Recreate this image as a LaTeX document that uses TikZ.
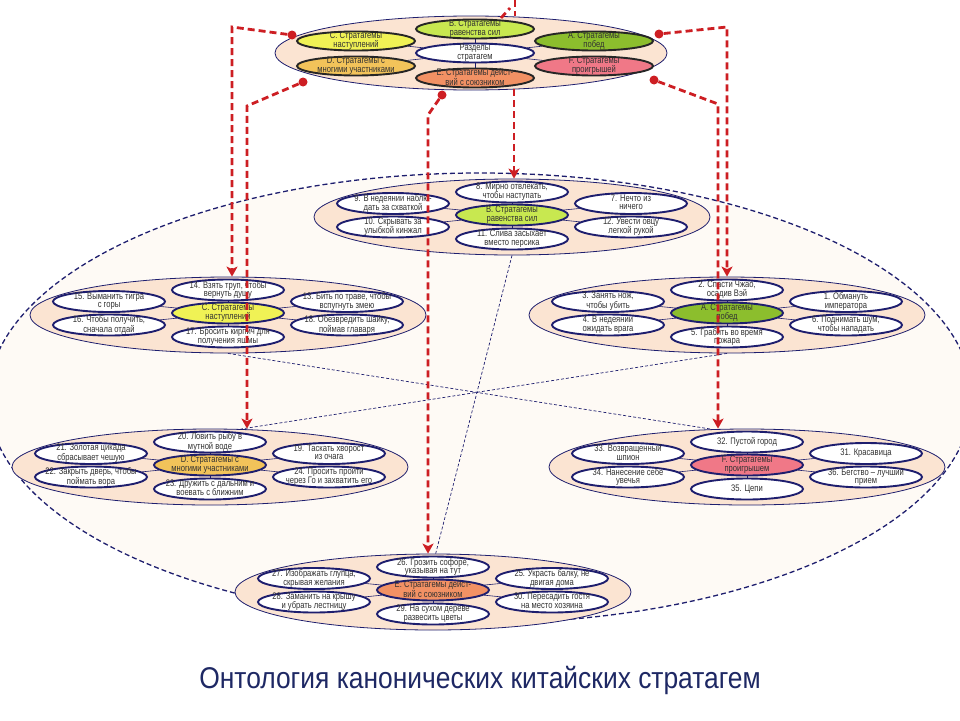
\documentclass[tikz,border=0pt]{standalone}
\usepackage{fontspec}
\newfontfamily\nf[FakeStretch=0.8]{Liberation Sans}
\newfontfamily\tf[FakeStretch=0.88]{Liberation Sans}
\usetikzlibrary{shapes.geometric,arrows.meta,calc}
\pgfdeclarelayer{back}\pgfdeclarelayer{mid}
\pgfsetlayers{back,mid,main}
\definecolor{navy}{RGB}{30,30,110}
\definecolor{peach}{RGB}{251,228,210}
\definecolor{cream}{RGB}{254,250,245}
\definecolor{redd}{RGB}{205,30,35}
\definecolor{cyel}{RGB}{240,242,85}
\definecolor{cgrl}{RGB}{200,232,80}
\definecolor{cgrn}{RGB}{140,190,45}
\definecolor{cora}{RGB}{242,195,90}
\definecolor{cpnk}{RGB}{240,120,135}
\definecolor{csal}{RGB}{242,145,100}
\definecolor{ttlc}{RGB}{30,40,100}
\definecolor{txtc}{RGB}{50,50,50}
\newcommand\tl[1]{\makebox[0pt]{\smash{\raisebox{-2.4pt}{\begin{tabular}[c]{@{}c@{}}#1\end{tabular}}}}}
\tikzset{
  bigell/.style={ellipse, draw=navy, line width=1.3pt, dash pattern=on 5pt off 3pt, fill=cream, minimum width=984pt, minimum height=450pt, inner sep=0pt},
  clbig/.style={ellipse, draw=navy, line width=0.8pt, fill=peach, minimum width=396pt, minimum height=76pt, inner sep=0pt},
  satn/.style={ellipse, draw=navy, line width=1.9pt, fill=white, minimum width=112pt, minimum height=21pt, inner sep=0pt, font=\nf\fontsize{9.5}{8.6}\selectfont, text=txtc},
  ctr/.style={satn},
  topn/.style={satn, draw=black!85, minimum width=118pt, minimum height=19pt},
  spoke/.style={draw=navy, line width=0.6pt},
  thinl/.style={draw=navy, line width=0.7pt, dash pattern=on 3pt off 2pt},
  redl/.style={draw=redd, line width=2.8pt, dash pattern=on 7pt off 4pt},
  redarr/.style={redl, -{Stealth[length=10pt,width=11pt,inset=2.5pt]}},
  dotn/.style={circle, fill=redd, minimum size=9pt, inner sep=0pt},
  ttl/.style={font=\tf\fontsize{30}{34}\selectfont, text=ttlc}
}
\newcommand\clu[5]{%
  \begin{pgfonlayer}{mid}\node[clbig] (cl#1) at (#2,#3+2) {};\end{pgfonlayer}
  \node[ctr,fill=#4] (c#1) at (#2,#3) {\tl{#5}};
}
\newcommand\sat[5]{%
  \node[satn] (#1) at ($(#2)+(#3,#4)$) {\tl{#5}};
  \begin{pgfonlayer}{mid}\draw[spoke] (#2) -- (#1);\end{pgfonlayer}
}
\begin{document}
\begin{tikzpicture}[x=1pt,y=-1pt]
\useasboundingbox (0,0) rectangle (960,720);
\begin{pgfonlayer}{back}\node[bigell] (big) at (480,398) {};\end{pgfonlayer}

% top cluster
\begin{pgfonlayer}{mid}\node[clbig, minimum width=392pt, minimum height=74pt] (clT) at (471,53) {};\end{pgfonlayer}
\node[topn, draw=navy, fill=white] (cT) at (475,53) {\tl{Разделы\\стратагем}};
\node[topn, fill=cgrl] (tB) at (475,29) {\tl{B. Стратагемы\\равенства сил}};
\node[topn, fill=cyel] (tC) at (356,41) {\tl{C. Стратагемы\\наступлений}};
\node[topn, fill=cgrn] (tA) at (594,41) {\tl{A. Стратагемы\\побед}};
\node[topn, fill=cora] (tD) at (356,66) {\tl{D. Стратагемы с\\многими участниками}};
\node[topn, fill=cpnk] (tF) at (594,66) {\tl{F. Стратагемы\\проигрышей}};
\node[topn, fill=csal] (tE) at (475,78) {\tl{E. Стратагемы дейст-\\вий с союзником}};
\begin{pgfonlayer}{mid}
\foreach \n in {tB,tC,tA,tD,tF,tE} \draw[spoke] (cT) -- (\n);
\end{pgfonlayer}

% cluster B
\clu{B}{512}{215}{cgrl}{B. Стратагемы\\равенства сил}
\sat{n8}{cB}{0}{-23}{8. Мирно отвлекать,\\чтобы наступать}
\sat{n9}{cB}{-119}{-11.5}{9. В недеянии наблю-\\дать за схваткой}
\sat{n7}{cB}{119}{-11.5}{7. Нечто из\\ничего}
\sat{n10}{cB}{-119}{12}{10. Скрывать за\\улыбкой кинжал}
\sat{n12}{cB}{119}{12}{12. Увести овцу\\легкой рукой}
\sat{n11}{cB}{0}{24}{11. Слива засыхает\\вместо персика}

% cluster C
\clu{C}{228}{313}{cyel}{C. Стратагемы\\наступлений}
\sat{n14}{cC}{0}{-23}{14. Взять труп, чтобы\\вернуть душу}
\sat{n15}{cC}{-119}{-11.5}{15. Выманить тигра\\с горы}
\sat{n13}{cC}{119}{-11.5}{13. Бить по траве, чтобы\\вспугнуть змею}
\sat{n16}{cC}{-119}{12}{16. Чтобы получить,\\сначала отдай}
\sat{n18}{cC}{119}{12}{18. Обезвредить шайку,\\поймав главаря}
\sat{n17}{cC}{0}{24}{17. Бросить кирпич для\\получения яшмы}

% cluster A
\clu{A}{727}{313}{cgrn}{A. Стратагемы\\побед}
\sat{n2}{cA}{0}{-23}{2. Спасти Чжао,\\осадив Вэй}
\sat{n3}{cA}{-119}{-11.5}{3. Занять нож,\\чтобы убить}
\sat{n1}{cA}{119}{-11.5}{1. Обмануть\\императора}
\sat{n4}{cA}{-119}{12}{4. В недеянии\\ожидать врага}
\sat{n6}{cA}{119}{12}{6. Поднимать шум,\\чтобы нападать}
\sat{n5}{cA}{0}{24}{5. Грабить во время\\пожара}

% cluster D
\clu{D}{210}{465}{cora}{D. Стратагемы с\\многими участниками}
\sat{n20}{cD}{0}{-23}{20. Ловить рыбу в\\мутной воде}
\sat{n21}{cD}{-119}{-11.5}{21. Золотая цикада\\сбрасывает чешую}
\sat{n19}{cD}{119}{-11.5}{19. Таскать хворост\\из очага}
\sat{n22}{cD}{-119}{12}{22. Закрыть дверь, чтобы\\поймать вора}
\sat{n24}{cD}{119}{12}{24. Просить пройти\\через Го и захватить его}
\sat{n23}{cD}{0}{24}{23. Дружить с дальним и\\воевать с ближним}

% cluster F
\clu{F}{747}{465}{cpnk}{F. Стратагемы\\проигрышем}
\sat{n32}{cF}{0}{-23}{32. Пустой город}
\sat{n33}{cF}{-119}{-11.5}{33. Возвращенный\\шпион}
\sat{n31}{cF}{119}{-11.5}{31. Красавица}
\sat{n34}{cF}{-119}{12}{34. Нанесение себе\\увечья}
\sat{n36}{cF}{119}{12}{36. Бегство – лучший\\прием}
\sat{n35}{cF}{0}{24}{35. Цепи}

% cluster E
\clu{E}{433}{590}{csal}{E. Стратагемы дейст-\\вий с союзником}
\sat{n26}{cE}{0}{-23}{26. Грозить софоре,\\указывая на тут}
\sat{n27}{cE}{-119}{-11.5}{27. Изображать глупца,\\скрывая желания}
\sat{n25}{cE}{119}{-11.5}{25. Украсть балку, не\\двигая дома}
\sat{n28}{cE}{-119}{12}{28. Заманить на крышу\\и убрать лестницу}
\sat{n30}{cE}{119}{12}{30. Пересадить гостя\\на место хозяина}
\sat{n29}{cE}{0}{24}{29. На сухом дереве\\развесить цветы}

% thin dashed links between clusters
\begin{pgfonlayer}{back}
\draw[thinl] (clB.south) -- (clE.86);
\draw[thinl] (clC.south) -- (clF.133);
\draw[thinl] (clA.south) -- (clD.51);
\end{pgfonlayer}

% red arrows
\node[dotn] (dC) at (292,35) {};
\node[dotn] (dD) at (303,82) {};
\node[dotn] (dE) at (442,95) {};
\node[dotn] (dA) at (659,34) {};
\node[dotn] (dF) at (654,80) {};
\coordinate (kC) at (232,27);
\coordinate (kD) at (247,106);
\coordinate (kE) at (428,115);
\coordinate (kA) at (727,27);
\coordinate (kF) at (718,104);
\coordinate (sB) at (514,89);
\draw[redarr] (dC) -- (kC) -- (kC |- clC.north);
\draw[redarr] (dD) -- (kD) -- (kD |- clD.north);
\draw[redarr] (dE) -- (kE) -- (kE |- clE.north);
\draw[redarr] (dA) -- (kA) -- (kA |- clA.north);
\draw[redarr] (dF) -- (kF) -- (kF |- clF.north);
\draw[redarr] (sB) -- (sB |- clB.north);
\coordinate (u1) at (501,18);
\coordinate (u2) at (510,8);
\coordinate (u3) at (515,0);
\coordinate (u4) at (515,16);
\draw[redl] (u1) -- (u2);
\draw[redl] (u3) -- (u4);

% title
\node[ttl] (title) at (480,680) {Онтология канонических китайских стратагем};
\end{tikzpicture}
\end{document}
